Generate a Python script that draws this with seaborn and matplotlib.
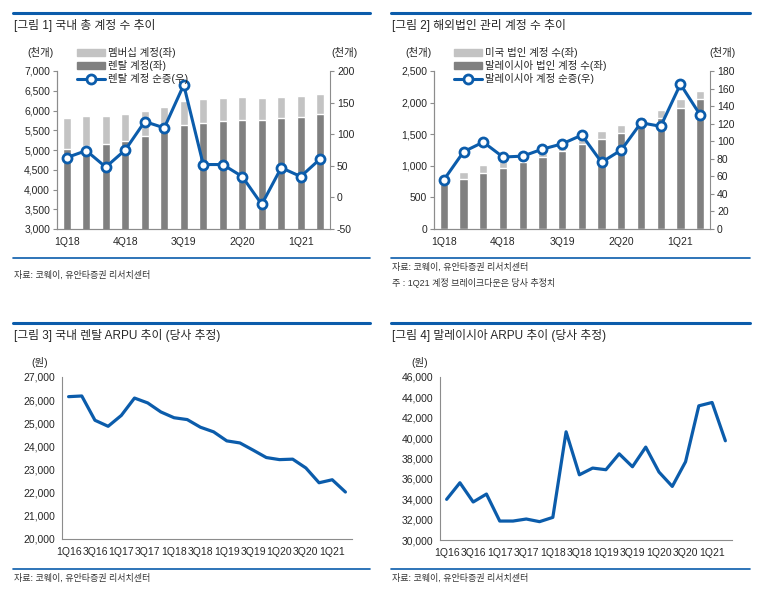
import numpy as np
import pandas as pd
import seaborn as sns
import matplotlib
matplotlib.use("Agg")
import matplotlib.pyplot as plt
from matplotlib.lines import Line2D
from matplotlib.patches import Patch
from matplotlib.ticker import FuncFormatter, FixedLocator

# 그림 1: 국내 총 계정 수 (천개)
q_1 = ['1Q18', '2Q18', '3Q18', '4Q18', '1Q19', '2Q19', '3Q19', '4Q19',
       '1Q20', '2Q20', '3Q20', '4Q20', '1Q21', '2Q21']
total_1 = [5800, 5850, 5855, 5905, 6000, 6090, 6250, 6285, 6320, 6335, 6310, 6345, 6370, 6410]
rental_1 = [5025, 5100, 5150, 5230, 5350, 5500, 5630, 5680, 5730, 5765, 5755, 5805, 5830, 5910]
net_1 = [63, 74, 48, 75, 120, 110, 178, 52, 52, 33, -11, 47, 33, 61]

# 그림 2: 해외법인 관리 계정 수 (천개)
total_2 = [740, 908, 1008, 1100, 1110, 1200, 1300, 1430, 1550, 1644, 1770, 1880, 2054, 2185]
malay_2 = [705, 793, 888, 972, 1061, 1145, 1240, 1345, 1429, 1523, 1670, 1760, 1917, 2054]
net_2 = [56, 88, 99, 82, 83, 91, 97, 107, 76, 90, 121, 117, 165, 130]

# 그림 3, 4: ARPU (원)
q_3 = ['1Q16', '2Q16', '3Q16', '4Q16', '1Q17', '2Q17', '3Q17', '4Q17', '1Q18', '2Q18', '3Q18',
       '4Q18', '1Q19', '2Q19', '3Q19', '4Q19', '1Q20', '2Q20', '3Q20', '4Q20', '1Q21', '2Q21']
arpu_kr = [26150, 26180, 25130, 24870, 25340, 26090, 25880, 25490, 25240, 25160, 24830,
           24630, 24240, 24150, 23840, 23520, 23430, 23450, 23070, 22430, 22560, 22030]
arpu_my = [33990, 35620, 33730, 34510, 31860, 31860, 32060, 31800, 32220, 40620, 36400,
           37060, 36900, 38460, 37190, 39120, 36670, 35260, 37680, 43170, 43500, 39740]

W, H = 761, 591
BLUE = '#0b5cab'
DARK = '#808080'
LIGHT = '#c3c3c3'
AXC = '#8c8c8c'

sns.set_style("white")
plt.rcParams['font.family'] = ['Liberation Sans', 'Noto Sans CJK KR', 'DejaVu Sans']
plt.rcParams['axes.unicode_minus'] = False

fig = plt.figure(figsize=(W / 100, H / 100), dpi=100)


def rect(l, r, t, b):
    return [l / W, 1 - b / H, (r - l) / W, (b - t) / H]


def ftext(x, y, s, **kw):
    kw.setdefault('fontsize', 7.5)
    kw.setdefault('va', 'center')
    fig.text(x / W, 1 - y / H, s, **kw)


def hrule(x0, x1, y, lw):
    fig.add_artist(Line2D([x0 / W, x1 / W], [1 - y / H, 1 - y / H], color=BLUE, lw=lw,
                          transform=fig.transFigure))


comma = FuncFormatter(lambda v, p: f'{v:,.0f}')


def style_axis(ax, right=False):
    for s in ['top', 'right', 'left', 'bottom']:
        ax.spines[s].set_visible(False)
    ax.spines['bottom'].set_visible(True)
    ax.spines['bottom'].set_color(AXC)
    side = 'right' if right else 'left'
    ax.spines[side].set_visible(True)
    ax.spines[side].set_color(AXC)
    ax.tick_params(axis='y', direction='out', length=3, color=AXC, labelsize=7.5, pad=2)
    ax.set_xlabel('')
    ax.set_ylabel('')


def cat_ticks(ax, n, step, labels):
    ax.set_xlim(-0.5, n - 0.5)
    ax.xaxis.set_major_locator(FixedLocator(list(range(0, n, step))))
    ax.set_xticklabels(labels[::step])
    ax.xaxis.set_minor_locator(FixedLocator([i - 0.5 for i in range(0, n + 1, 1 if step == 3 else step)]))
    ax.tick_params(axis='x', which='major', length=0, labelsize=7.5, pad=6)
    ax.tick_params(axis='x', which='minor', direction='out', length=3, color=AXC)


def combo(rc, q, total, part, net, lims, rlims, labels_leg):
    ax = fig.add_axes(rc)
    df = pd.DataFrame({'q': q, 'total': total, 'part': part, 'net': net})
    sns.barplot(data=df, x='q', y='total', color=LIGHT, saturation=1, width=0.42, ax=ax)
    sns.barplot(data=df, x='q', y='part', color=DARK, saturation=1, width=0.42, ax=ax)
    ax.set_ylim(lims[0], lims[1])
    ax.set_yticks(np.arange(lims[0], lims[1] + 1, lims[2]))
    ax.yaxis.set_major_formatter(comma)
    style_axis(ax)
    ax2 = ax.twinx()
    sns.pointplot(data=df, x='q', y='net', color=BLUE, errorbar=None, markers='o',
                  markersize=6.5, linewidth=2.2, markerfacecolor='white',
                  markeredgewidth=2, markeredgecolor=BLUE, ax=ax2)
    ax2.set_ylim(rlims[0], rlims[1])
    ax2.set_yticks(np.arange(rlims[0], rlims[1] + 1, rlims[2]))
    ax2.yaxis.set_major_formatter(comma)
    style_axis(ax2, right=True)
    ax2.spines['left'].set_visible(True)
    ax2.spines['left'].set_color(AXC)
    cat_ticks(ax, len(q), 3, q)
    cat_ticks(ax2, len(q), 3, q)
    handles = [Patch(color=LIGHT), Patch(color=DARK),
               Line2D([], [], color=BLUE, lw=2.2, marker='o', ms=6.5, mfc='white', mew=2)]
    ax2.legend(handles, labels_leg, loc='upper left', bbox_to_anchor=(rc[0] + 20 / W, 1 - 47 / H),
               bbox_transform=fig.transFigure, frameon=False, fontsize=7.5, handlelength=2.7,
               handleheight=0.6, labelspacing=0.2, borderpad=0, handletextpad=0.3,
               borderaxespad=0)
    return ax, ax2


def arpu(rc, q, vals, lims):
    ax = fig.add_axes(rc)
    df = pd.DataFrame({'pos': range(len(q)), 'v': vals})
    sns.lineplot(data=df, x='pos', y='v', color=BLUE, linewidth=2.3, ax=ax)
    ax.set_ylim(lims[0], lims[1])
    ax.set_yticks(np.arange(lims[0], lims[1] + 1, lims[2]))
    ax.yaxis.set_major_formatter(comma)
    style_axis(ax)
    cat_ticks(ax, len(q), 2, q)
    return ax


# panel 1
hrule(13, 370, 13, 2.2)
ftext(14, 25, '[그림 1] 국내 총 계정 수 추이', fontsize=8.5)
combo(rect(57, 330, 71, 229), q_1, total_1, rental_1, net_1, (3000, 7000, 500), (-50, 200, 50),
      ['멤버십 계정(좌)', '렌탈 계정(좌)', '렌탈 계정 순증(우)'])
ftext(40, 52, '(천개)', ha='center')
ftext(344, 52, '(천개)', ha='center')
hrule(13, 370, 258, 1.2)
ftext(14, 275, '자료: 코웨이, 유안타증권 리서치센터', fontsize=6.5, color='#333333')

# panel 2
hrule(391, 750, 13, 2.2)
ftext(392, 25, '[그림 2] 해외법인 관리 계정 수 추이', fontsize=8.5)
combo(rect(434, 710, 71, 229), q_1, total_2, malay_2, net_2, (0, 2500, 500), (0, 180, 20),
      ['미국 법인 계정 수(좌)', '말레이시아 법인 계정 수(좌)', '말레이시아 계정 순증(우)'])
ftext(419, 52, '(천개)', ha='center')
ftext(722, 52, '(천개)', ha='center')
hrule(391, 750, 258, 1.2)
ftext(392, 267, '자료: 코웨이, 유안타증권 리서치센터', fontsize=6.5, color='#333333')
ftext(392, 283, '주 : 1Q21 계정 브레이크다운은 당사 추정치', fontsize=6.5, color='#333333')

# panel 3
hrule(13, 370, 323, 2.2)
ftext(14, 336, '[그림 3] 국내 렌탈 ARPU 추이 (당사 추정)', fontsize=8.5)
arpu(rect(62, 352, 377, 539), q_3, arpu_kr, (20000, 27000, 1000))
ftext(40, 363, '(원)', ha='center')
hrule(13, 370, 569, 1.2)
ftext(14, 578, '자료: 코웨이, 유안타증권 리서치센터', fontsize=6.5, color='#333333')

# panel 4
hrule(391, 750, 323, 2.2)
ftext(392, 336, '[그림 4] 말레이시아 ARPU 추이 (당사 추정)', fontsize=8.5)
arpu(rect(440, 732, 377, 540), q_3, arpu_my, (30000, 46000, 2000))
ftext(420, 363, '(원)', ha='center')
hrule(391, 750, 569, 1.2)
ftext(392, 578, '자료: 코웨이, 유안타증권 리서치센터', fontsize=6.5, color='#333333')

fig.savefig('out.png', dpi=100)
